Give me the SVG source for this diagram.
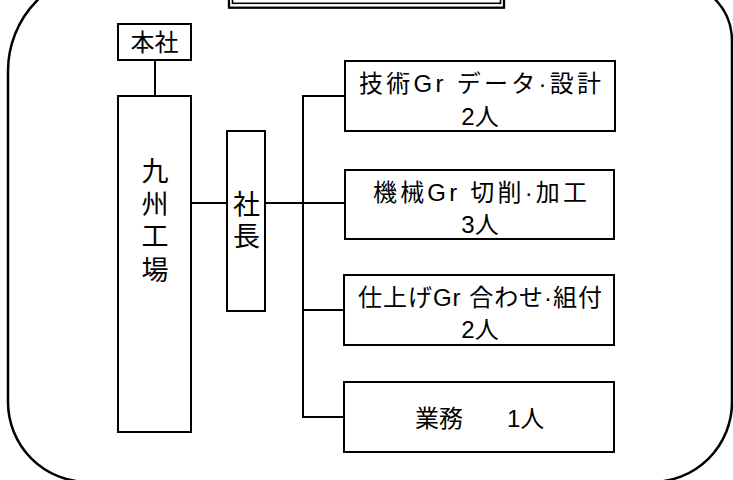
<svg xmlns="http://www.w3.org/2000/svg" width="733" height="480" viewBox="0 0 733 480">
<style>
.box{fill:#fff;stroke:#000;stroke-width:2}
.ln{fill:none;stroke:#000;stroke-width:2}
.t{font-family:"Liberation Sans","Noto Sans CJK JP",sans-serif;font-size:24px;fill:#000;text-anchor:middle}
.v{font-size:27px}
</style>
<rect width="733" height="480" fill="#fff"/>
<g id="frame">
<path d="M 8 402 L 8 71 A 100 100 0 0 1 108 -29 L 672 -19 A 60 60 0 0 1 732 41 L 732 402 A 80 80 0 0 1 652 482 L 88 482 A 80 80 0 0 1 8 402 Z" fill="none" stroke="#000" stroke-width="2.5"/>
</g>
<g id="title">
<rect x="229" y="-20" width="275" height="27.7" fill="none" stroke="#000" stroke-width="2.3"/>
<rect x="232.5" y="-20" width="268" height="23.3" fill="none" stroke="#000" stroke-width="1.6"/>
</g>
<g id="connectors">
<path class="ln" d="M155 60 V96"/>
<path class="ln" d="M191 203 H227"/>
<path class="ln" d="M265 203 H345"/>
<path class="ln" d="M345 96 H303 V417 H345"/>
<path class="ln" d="M303 310 H345"/>
</g>
<g id="honsha">
<rect class="box" x="118" y="24" width="73" height="36"/>
<text class="t" x="154.5" y="51">本社</text>
</g>
<g id="kyushu">
<rect class="box" x="118" y="96" width="73" height="336"/>
<text class="t v"><tspan x="155" y="181">九</tspan><tspan x="155" y="214">州</tspan><tspan x="155" y="246">工</tspan><tspan x="155" y="280">場</tspan></text>
</g>
<g id="shacho">
<rect class="box" x="227" y="131" width="38" height="180"/>
<text class="t v"><tspan x="246.5" y="214">社</tspan><tspan x="246.5" y="246">長</tspan></text>
</g>
<g id="gijutsu">
<rect class="box" x="345" y="61" width="270" height="70"/>
<text class="t" x="480" y="92" textLength="242" lengthAdjust="spacing">技術Gr データ·設計</text>
<text class="t" x="480" y="125">2人</text>
</g>
<g id="kikai">
<rect class="box" x="345" y="170" width="269" height="69"/>
<text class="t" x="480" y="201" textLength="214" lengthAdjust="spacing">機械Gr 切削·加工</text>
<text class="t" x="480" y="233">3人</text>
</g>
<g id="shiage">
<rect class="box" x="344" y="275" width="270" height="70"/>
<text class="t" x="480" y="306" textLength="244" lengthAdjust="spacing">仕上げGr 合わせ·組付</text>
<text class="t" x="480" y="338">2人</text>
</g>
<g id="gyomu">
<rect class="box" x="344" y="382" width="270" height="70"/>
<text class="t" style="text-anchor:start" x="415" y="427">業務 <tspan x="507">1人</tspan></text>
</g>
</svg>
